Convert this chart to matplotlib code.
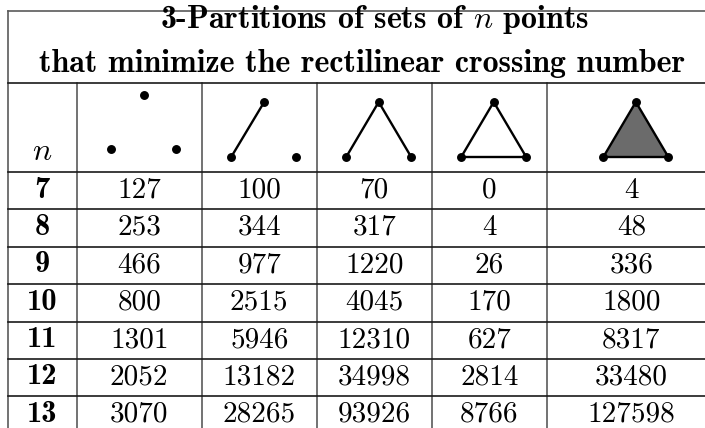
"""
Table of 3-partitions of n-point sets minimizing the rectilinear crossing number.
Drawn as a plain matplotlib figure with pixel coordinates.
"""

import matplotlib
matplotlib.use("Agg")
import matplotlib.pyplot as plt
from matplotlib.patches import Polygon


# =========================
# Data
# =========================

title_line1 = "3-Partitions of sets of $n$ points"
title_line2 = "that minimize the rectilinear crossing number"

n_values = [7, 8, 9, 10, 11, 12, 13]

no_edges = [127, 253, 466, 800, 1301, 2052, 3070]
one_edge = [100, 344, 977, 2515, 5946, 13182, 28265]
two_edges = [70, 317, 1220, 4045, 12310, 34998, 93926]
triangle = [0, 4, 26, 170, 627, 2814, 8766]
filled_triangle = [4, 48, 336, 1800, 8317, 33480, 127598]

columns = [no_edges, one_edge, two_edges, triangle, filled_triangle]


# =========================
# Layout (pixels)
# =========================

W, H = 705, 428
LEFT, RIGHT = 8, 716
TOP = 11
TITLE_BOTTOM = 83
HEADER_BOTTOM = 172
ROW_H = 37.4
COL_EDGES = [LEFT, 76.7, 201.7, 316.7, 431.7, 546.7, RIGHT]

FS = 21
FS_TITLE = 23
VLINE = "#5a5a5a"
HLINE = "#1a1a1a"

plt.rcParams["mathtext.fontset"] = "cm"

fig = plt.figure(figsize=(W / 100, H / 100), dpi=100)
ax = fig.add_axes([0, 0, 1, 1])
ax.set_xlim(0, W)
ax.set_ylim(H, 0)
ax.axis("off")

n_rows = len(n_values)
row_tops = [HEADER_BOTTOM + i * ROW_H for i in range(n_rows + 1)]
bottom = row_tops[-1]

# Grid lines
ax.plot([LEFT, LEFT], [TOP, bottom], color=VLINE, lw=1.2)
ax.plot([RIGHT, RIGHT], [TOP, bottom], color=VLINE, lw=1.2)
for x in COL_EDGES[1:-1]:
    ax.plot([x, x], [TITLE_BOTTOM, bottom], color=VLINE, lw=1.2)

ax.plot([LEFT, RIGHT], [TOP, TOP], color=VLINE, lw=1.2)
for y in [TITLE_BOTTOM] + row_tops:
    ax.plot([LEFT, RIGHT], [y, y], color=HLINE, lw=1.2)

# Title (the mathtext line renders a little left of centre, so nudge it)
cx = (LEFT + RIGHT) / 2
ax.text(cx + 12, 28, title_line1, fontsize=FS_TITLE, family="cmb10",
        ha="center", va="baseline")
ax.text(cx, 72, title_line2, fontsize=FS_TITLE, family="cmb10",
        ha="center", va="baseline")

# Header row
ax.text((COL_EDGES[0] + COL_EDGES[1]) / 2, 160, "$n$", fontsize=FS + 2,
        ha="center", va="baseline")

centers = [(COL_EDGES[i] + COL_EDGES[i + 1]) / 2 for i in range(1, 6)]
dot = dict(marker="o", ms=5.4, color="black", ls="none", zorder=4)
edge = dict(color="black", lw=1.7, zorder=3)

# column 1: three loose points
c = centers[0]
ax.plot([c + 4.8, c - 28, c + 37], [95, 149, 149], **dot)

# column 2: one edge + a point
c = centers[1]
ax.plot([c - 28, c + 5], [157, 102], **edge)
ax.plot([c - 28, c + 5, c + 37], [157, 102, 157], **dot)

# column 3: path of two edges
c = centers[2]
ax.plot([c - 28, c + 4.5, c + 37], [157, 102, 157], **edge)
ax.plot([c - 28, c + 4.5, c + 37], [157, 102, 157], **dot)

# column 4: triangle
c = centers[3]
tri = [(c - 28, 157), (c + 4.5, 102), (c + 37, 157)]
ax.add_patch(Polygon(tri, closed=True, fill=False, ec="black", lw=1.7, zorder=3))
ax.plot([p[0] for p in tri], [p[1] for p in tri], **dot)

# column 5: filled triangle
c = centers[4]
tri = [(c - 28, 157), (c + 4.5, 102), (c + 37, 157)]
ax.add_patch(Polygon(tri, closed=True, fc="#6b6b6b", ec="black", lw=1.7, zorder=3))
ax.plot([p[0] for p in tri], [p[1] for p in tri], **dot)

# Body
for i, n in enumerate(n_values):
    base = row_tops[i] + 25.5
    ax.text((COL_EDGES[0] + COL_EDGES[1]) / 2, base, str(n), fontsize=FS + 1,
            family="cmb10", ha="center", va="baseline")
    for j, col in enumerate(columns):
        ax.text(centers[j], base, str(col[i]), fontsize=FS, family="cmr10",
                ha="center", va="baseline")

fig.savefig("out.png", dpi=100)
